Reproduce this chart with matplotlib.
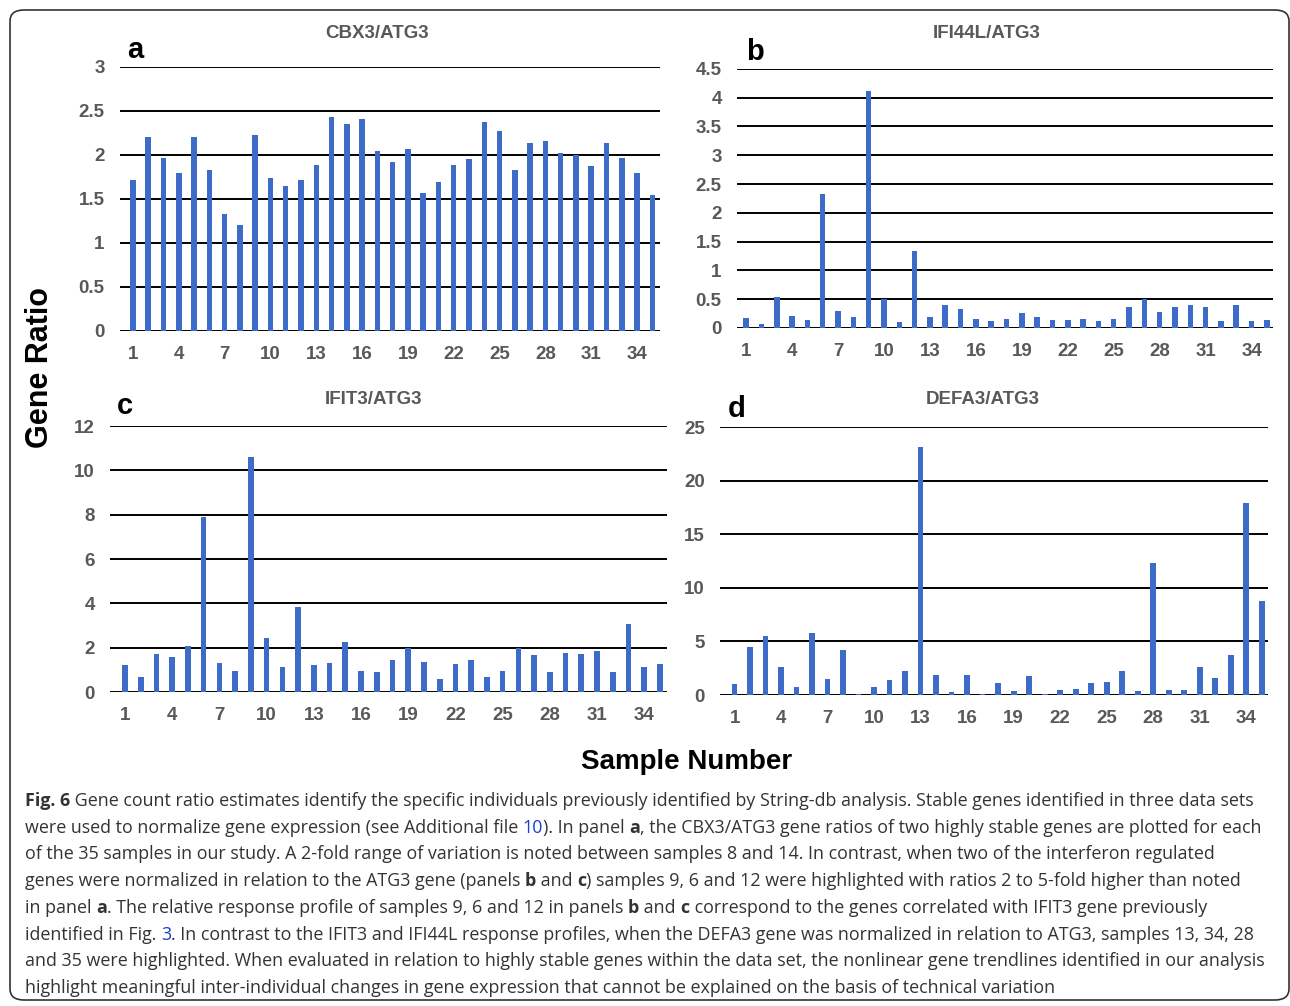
import numpy as np
import matplotlib
matplotlib.use('Agg')
import matplotlib.pyplot as plt
from matplotlib.patches import FancyBboxPatch
from matplotlib import font_manager

samples = np.arange(1, 36)

cbx3 = [1.72, 2.2, 1.97, 1.8, 2.2, 1.83, 1.33, 1.2, 2.23, 1.74, 1.65, 1.72, 1.89, 2.43, 2.35,
        2.41, 2.05, 1.92, 2.07, 1.57, 1.69, 1.89, 1.95, 2.38, 2.27, 1.83, 2.14, 2.16, 2.02, 2.0,
        1.87, 2.14, 1.97, 1.8, 1.54]
ifi44l = [0.18, 0.07, 0.54, 0.21, 0.14, 2.33, 0.3, 0.19, 4.12, 0.5, 0.1, 1.33, 0.19, 0.4, 0.33,
          0.16, 0.12, 0.16, 0.26, 0.19, 0.14, 0.14, 0.16, 0.12, 0.16, 0.36, 0.5, 0.28, 0.36, 0.4,
          0.36, 0.12, 0.4, 0.12, 0.14]
ifit3 = [1.2, 0.67, 1.73, 1.6, 2.08, 7.9, 1.32, 0.96, 10.6, 2.42, 1.13, 3.85, 1.2, 1.32, 2.26,
         0.96, 0.9, 1.43, 1.99, 1.37, 0.6, 1.27, 1.43, 0.67, 0.96, 1.99, 1.68, 0.9, 1.78, 1.73,
         1.84, 0.9, 3.07, 1.13, 1.27]
defa3 = [1.0, 4.5, 5.5, 2.6, 0.75, 5.8, 1.5, 4.2, 0.1, 0.75, 1.4, 2.2, 23.1, 1.85, 0.25,
         1.85, 0.1, 1.15, 0.35, 1.75, 0.1, 0.5, 0.6, 1.15, 1.25, 2.2, 0.35, 12.3, 0.5, 0.5,
         2.6, 1.6, 3.7, 17.9, 8.8]

W, H = 1290, 1006
fig = plt.figure(figsize=(W / 100, H / 100), dpi=100)

names = {f.name for f in font_manager.fontManager.ttflist}
chart_font = 'Liberation Sans' if 'Liberation Sans' in names else 'DejaVu Sans'
cap_font = 'Open Sans'

bar_color = '#3d6cc8'
tick_color = '#595959'

# axes rect (fig fraction), values, ymax, yticks, xlim, title, title pos px, letter, letter pos px
panels = [
    ([0.093, 0.671, 0.4186, 0.2624], cbx3, 3, np.arange(0, 3.01, 0.5), (0.15, 35.5),
     'CBX3/ATG3', (377, 34), 'a', (127, 50)),
    ([0.5713, 0.674, 0.4155, 0.2575], ifi44l, 4.5, np.arange(0, 4.51, 0.5), (0.4, 35.4),
     'IFI44L/ATG3', (987, 34), 'b', (746, 52)),
    ([0.0853, 0.3121, 0.4318, 0.2644], ifit3, 12, np.arange(0, 12.1, 2), (0.05, 35.45),
     'IFIT3/ATG3', (374, 399), 'c', (117, 406)),
    ([0.5581, 0.3091, 0.4248, 0.2664], defa3, 25, np.arange(0, 25.1, 5), (0.05, 35.4),
     'DEFA3/ATG3', (983, 399), 'd', (728, 409)),
]

for rect, vals, ymax, yt, xl, title, tpos, letter, lpos in panels:
    ax = fig.add_axes(rect)
    ax.bar(samples, vals, width=0.36, color=bar_color, zorder=3)
    ax.set_ylim(0, ymax)
    ax.set_xlim(*xl)
    ax.set_yticks(yt)
    ax.set_yticklabels(['%g' % v for v in yt])
    ax.set_xticks(samples[::3])
    for s in ax.spines.values():
        s.set_visible(False)
    ax.grid(axis='y', color='black', linewidth=1.4, zorder=1)
    ax.tick_params(length=0, labelsize=13.5, labelcolor=tick_color, pad=11)
    for lab in ax.get_xticklabels() + ax.get_yticklabels():
        lab.set_fontweight('bold')
        lab.set_fontfamily(chart_font)
    fig.text(tpos[0] / W, 1 - tpos[1] / H, title, fontsize=13.5, fontweight='bold',
             color=tick_color, family=chart_font, ha='center', va='center')
    fig.text(lpos[0] / W, 1 - lpos[1] / H, letter, fontsize=21, fontweight='bold',
             family=chart_font, ha='left', va='center')

fig.text(40 / W, 1 - 368 / H, 'Gene Ratio', rotation=90, fontsize=22, fontweight='bold',
         family=chart_font, ha='center', va='center')
fig.text(687 / W, 1 - 762 / H, 'Sample Number', fontsize=20, fontweight='bold',
         family=chart_font, ha='center', va='center')

# border around figure + caption
box = FancyBboxPatch((10 / W, 6 / H), 1279 / W, 990 / H,
                     boxstyle='round,pad=0,rounding_size=0.011',
                     transform=fig.transFigure, fill=False, edgecolor='#333333', linewidth=1.2)
fig.patches.append(box)

txt = '#333333'
blue = '#1a3fd0'
caption = [
    [('Fig. 6', 'bold', txt), (' Gene count ratio estimates identify the specific individuals previously identified by String-db analysis. Stable genes identified in three data sets', 'normal', txt)],
    [('were used to normalize gene expression (see Additional file ', 'normal', txt), ('10', 'normal', blue), ('). In panel ', 'normal', txt), ('a', 'bold', txt), (', the CBX3/ATG3 gene ratios of two highly stable genes are plotted for each', 'normal', txt)],
    [('of the 35 samples in our study. A 2-fold range of variation is noted between samples 8 and 14. In contrast, when two of the interferon regulated', 'normal', txt)],
    [('genes were normalized in relation to the ATG3 gene (panels ', 'normal', txt), ('b', 'bold', txt), (' and ', 'normal', txt), ('c', 'bold', txt), (') samples 9, 6 and 12 were highlighted with ratios 2 to 5-fold higher than noted', 'normal', txt)],
    [('in panel ', 'normal', txt), ('a', 'bold', txt), ('. The relative response profile of samples 9, 6 and 12 in panels ', 'normal', txt), ('b', 'bold', txt), (' and ', 'normal', txt), ('c', 'bold', txt), (' correspond to the genes correlated with IFIT3 gene previously', 'normal', txt)],
    [('identified in Fig. ', 'normal', txt), ('3', 'normal', blue), ('. In contrast to the IFIT3 and IFI44L response profiles, when the DEFA3 gene was normalized in relation to ATG3, samples 13, 34, 28', 'normal', txt)],
    [('and 35 were highlighted. When evaluated in relation to highly stable genes within the data set, the nonlinear gene trendlines identified in our analysis', 'normal', txt)],
    [('highlight meaningful inter-individual changes in gene expression that cannot be explained on the basis of technical variation', 'normal', txt)],
]

renderer = fig.canvas.get_renderer()


def text_width(s, weight, size):
    t = fig.text(0, 0, '|' + s + '|', fontsize=size, fontweight=weight, family=cap_font)
    t2 = fig.text(0, 0, '||', fontsize=size, fontweight=weight, family=cap_font)
    w = t.get_window_extent(renderer).width - t2.get_window_extent(renderer).width
    t.remove()
    t2.remove()
    return w


# pick a size so the first line spans about 1239 px
size = 14
w1 = sum(text_width(s, wt, size) for s, wt, c in caption[0])
size = size * 1239 / w1

y0, dy = 801, 26.7
for i, runs in enumerate(caption):
    x = 25
    y = 1 - (y0 + i * dy) / H
    for s, wt, c in runs:
        fig.text(x / W, y, s, fontsize=size, fontweight=wt, color=c, family=cap_font,
                 ha='left', va='center')
        x += text_width(s, wt, size)

fig.savefig('out.png', dpi=100)
